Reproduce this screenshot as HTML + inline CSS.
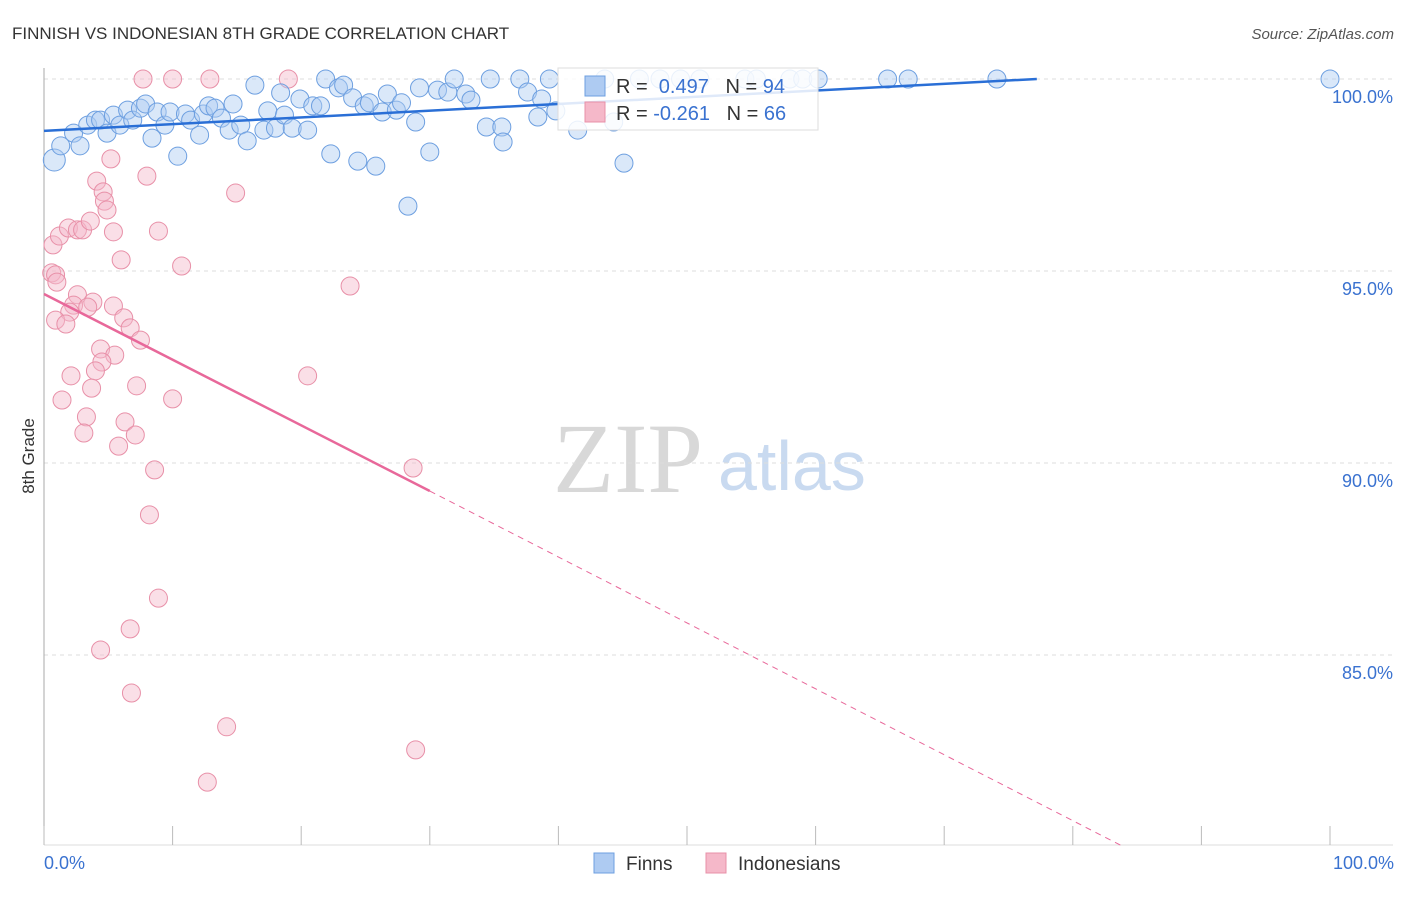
<!DOCTYPE html>
<html><head><meta charset="utf-8"><style>
body{margin:0;background:#fff;font-family:"Liberation Sans",sans-serif;}
</style></head><body>
<svg id="chart" width="1406" height="892" xmlns="http://www.w3.org/2000/svg" font-family="Liberation Sans, sans-serif">
<text x="12" y="39" font-size="17" fill="#333">FINNISH VS INDONESIAN 8TH GRADE CORRELATION CHART</text>
<text x="1394" y="39" font-size="15" fill="#555" text-anchor="end" font-style="italic">Source: ZipAtlas.com</text>
<g>
<text x="553" y="492" font-size="100" fill="#d8d8d8" style="font-family:'Liberation Serif',serif">ZIP</text>
<text x="718" y="490" font-size="70" fill="#c9daf0">atlas</text>
</g>
<g id="grid"></g>
<g id="axes"></g>
<g id="pinkDots"></g>
<g id="blueDots"></g>
<g id="trends"></g>
<g>
<rect x="558" y="68" width="260" height="62" fill="#fff" fill-opacity="0.85" stroke="#ddd"/>
<rect x="585" y="76" width="20" height="20" fill="#aecbf2" stroke="#6d9fe0"/>
<text x="616" y="93" font-size="20" fill="#333">R = <tspan fill="#3a72d0">&#160;0.497</tspan>&#160;&#160;&#160;N = <tspan fill="#3a72d0">94</tspan></text>
<rect x="585" y="102" width="20" height="20" fill="#f5b8c9" stroke="#e890a8"/>
<text x="616" y="120" font-size="20" fill="#333">R = <tspan fill="#3a72d0">-0.261</tspan>&#160;&#160;&#160;N = <tspan fill="#3a72d0">66</tspan></text>
</g>
<text transform="translate(34,456) rotate(-90)" font-size="17" fill="#333" text-anchor="middle">8th Grade</text>
<text x="44" y="869" font-size="18" fill="#3a72d0">0.0%</text>
<text x="1394" y="869" font-size="18" fill="#3a72d0" text-anchor="end">100.0%</text>
<g>
<rect x="594" y="853" width="20" height="20" fill="#aecbf2" stroke="#6d9fe0"/>
<text x="626" y="870" font-size="19" fill="#333">Finns</text>
<rect x="706" y="853" width="20" height="20" fill="#f5b8c9" stroke="#e890a8"/>
<text x="738" y="870" font-size="19" fill="#333">Indonesians</text>
</g>
</svg>
<script>
const yTicks=[100,95,90,85];
const yTickLabels=["100.0%","95.0%","90.0%","85.0%"];
const xTicks=[0,10,20,30,40,50,60,70,80,90,100];
const finnsX=[0.8,1.3,2.3,2.8,3.4,4.0,4.4,4.9,5.4,5.9,6.5,6.9,7.5,7.9,8.4,8.8,9.4,9.8,10.4,11.0,11.4,12.1,12.4,12.8,13.3,13.8,14.4,14.7,15.3,15.8,16.4,17.1,17.4,18.0,18.4,18.7,19.3,19.9,20.5,20.9,21.5,21.9,22.3,22.9,23.3,24.0,24.4,24.9,25.3,25.8,26.3,26.7,27.4,27.8,28.3,28.9,29.2,30.0,30.6,31.4,31.9,32.8,33.2,34.4,34.7,35.6,35.7,37.0,37.6,38.4,38.7,39.3,39.8,41.5,43.6,44.3,45.1,46.3,47.9,49.5,51.0,54.5,55.4,58.0,59.0,60.2,65.6,67.2,74.1,100];
const finnsY=[97.89,98.26,98.59,98.26,98.80,98.93,98.93,98.59,99.06,98.80,99.19,98.93,99.24,99.35,98.46,99.14,98.80,99.14,97.99,99.09,98.93,98.54,99.09,99.30,99.24,98.98,98.67,99.35,98.80,98.39,99.84,98.67,99.17,98.72,99.64,99.06,98.72,99.48,98.67,99.30,99.30,100,98.05,99.77,99.84,99.51,97.86,99.30,99.38,97.73,99.14,99.61,99.19,99.38,96.69,98.88,99.77,98.10,99.71,99.66,100,99.61,99.45,98.75,100,98.75,98.36,100,99.66,99.01,99.48,100,99.17,98.67,100,98.88,97.81,100,100,100,100,100,100,100,100,100,100,100,100,100];
const indoX=[7.7,10.0,12.9,19.0,5.2,4.1,4.6,4.7,4.9,8.0,14.9,0.7,1.2,1.9,2.6,3.0,3.6,5.4,8.9,6.0,10.7,0.6,0.9,1.0,23.8,2.6,3.8,2.3,3.4,2.0,5.4,6.2,0.9,1.7,6.7,7.5,4.4,5.5,4.5,4.0,2.1,20.5,7.2,3.7,1.4,10.0,3.3,6.3,3.1,7.1,5.8,8.6,28.7,8.2,8.9,6.7,4.4,6.8,14.2,28.9,12.7];
const indoY=[100,100,100,100,97.92,97.34,97.06,96.82,96.59,97.47,97.03,95.68,95.91,96.12,96.07,96.07,96.30,96.02,96.04,95.29,95.13,94.95,94.90,94.71,94.61,94.38,94.19,94.11,94.06,93.93,94.09,93.78,93.72,93.62,93.52,93.20,92.97,92.81,92.63,92.40,92.27,92.27,92.01,91.95,91.64,91.67,91.20,91.07,90.78,90.73,90.44,89.82,89.87,88.65,86.48,85.68,85.13,84.01,83.13,82.53,81.69];
const finnsTrend=[[0,98.65],[77.2,100]];
const indoTrend=[[0,94.4],[30,89.27],[83.7,80.05]];
const NS="http://www.w3.org/2000/svg";
const xS=v=>44+v*12.86;
const yS=v=>79+(100-v)*38.4;
function mk(tag,attrs,parent){const e=document.createElementNS(NS,tag);for(const k in attrs)e.setAttribute(k,attrs[k]);parent.appendChild(e);return e;}
const grid=document.getElementById('grid'),axes=document.getElementById('axes');
yTicks.forEach((t,i)=>{
 const l=mk('line',{x1:44,x2:1393,y1:yS(t),y2:yS(t),stroke:'#ddd','stroke-dasharray':'4,4'},grid);
 
 
 const tx=mk('text',{x:1393,y:yS(t)+24,'font-size':18,fill:'#3a72d0','text-anchor':'end'},axes);
 tx.textContent=yTickLabels[i];
 
 
});
const ya=mk('line',{x1:44,x2:44,y1:68,y2:845,stroke:'#aaa'},axes);


const xa=mk('line',{x1:44,x2:1393,y1:845,y2:845,stroke:'#ddd'},axes);


xTicks.forEach(t=>{
 const l=mk('line',{x1:xS(t),x2:xS(t),y1:826,y2:845,stroke:'#bbb'},axes);
 
 
});
const pg=document.getElementById('pinkDots');
indoX.forEach((x,i)=>{
 const c=mk('circle',{cx:xS(x),cy:yS(indoY[i]),r:9,fill:'#f5b8c9','fill-opacity':0.45,stroke:'#e890a8','stroke-width':1},pg);
 
 
});
const bg=document.getElementById('blueDots');
finnsX.forEach((x,i)=>{
 const c=mk('circle',{cx:xS(x),cy:yS(finnsY[i]),r:i===0?11:9,fill:'#aecbf2','fill-opacity':0.45,stroke:'#6d9fe0','stroke-width':1},bg);
 
 
});
const tg=document.getElementById('trends');
const bl=mk('line',{x1:xS(finnsTrend[0][0]),y1:yS(finnsTrend[0][1]),x2:xS(finnsTrend[1][0]),y2:yS(finnsTrend[1][1]),stroke:'#2a6fd6','stroke-width':2.5},tg);


const pl=mk('line',{x1:xS(indoTrend[0][0]),y1:yS(indoTrend[0][1]),x2:xS(indoTrend[1][0]),y2:yS(indoTrend[1][1]),stroke:'#e8689a','stroke-width':2.5},tg);


const pd=mk('line',{x1:xS(indoTrend[1][0]),y1:yS(indoTrend[1][1]),x2:xS(indoTrend[2][0]),y2:yS(indoTrend[2][1]),stroke:'#e8689a','stroke-width':1,'stroke-dasharray':'6,5'},tg);


</script>
</body></html>
